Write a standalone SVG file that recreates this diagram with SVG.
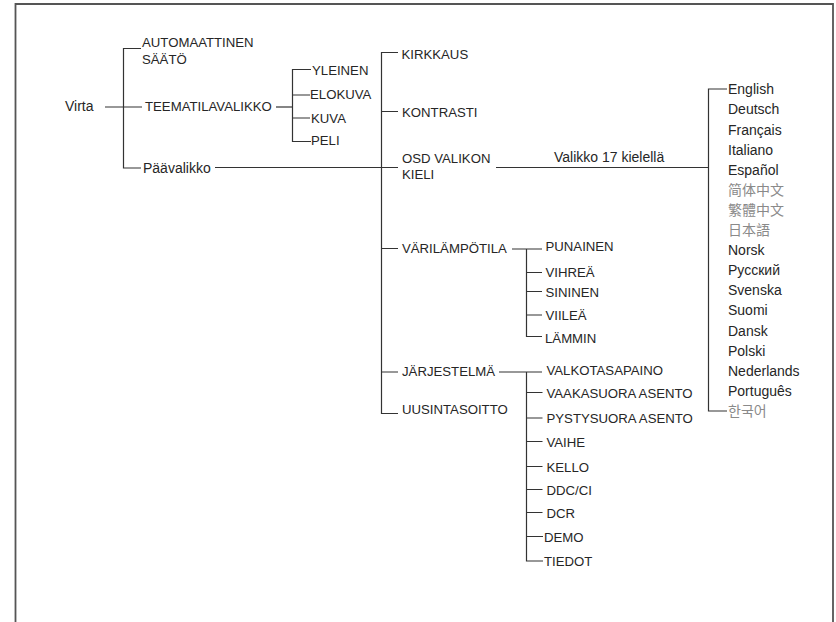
<svg xmlns="http://www.w3.org/2000/svg" width="836" height="622" viewBox="0 0 836 622">
<style>
text{font-family:"Liberation Sans",Arial,sans-serif;fill:#262626}
.c{font-size:13.2px}
.m{font-size:14px}
.cjk{font-family:"Liberation Sans","Noto Sans CJK SC","Noto Sans CJK JP","Noto Sans CJK KR",sans-serif;fill:#8a8a8a;font-size:14px}
#connectors path{fill:none;stroke:#333;stroke-width:1.2}
</style>
<rect width="836" height="622" fill="#fff"/>
<path d="M15.5 622V4H833V622" fill="none" stroke="#555" stroke-width="1.8"/>
<g id="connectors">
<path d="M105 107H142"/>
<path d="M141 48.5H123.5V168H141"/>
<path d="M276 107H292.5"/>
<path d="M311 69.5H292.5V141.5H311M292.5 95H310M292.5 118H310"/>
<path d="M215 167.5H398"/>
<path d="M398 52.5H381.5V413.5H398M381.5 111.5H398M381.5 248.5H398M381.5 372H398"/>
<path d="M496 167.5H708.5"/>
<path d="M727 89H708.5V411H727"/>
<path d="M512 249H542M526.5 249V336.5H542M526.5 272.5H542M526.5 291.5H542M526.5 315H542"/>
<path d="M499 372H542M526.5 372V561H543M526.5 392.5H542.5M526.5 418H542.5M526.5 441.5H542.5M526.5 466.5H542.5M526.5 489.5H542.5M526.5 512.5H542.5M526.5 536.5H543"/>
</g>
<g id="virta"><text class="m" x="65" y="111">Virta</text></g>
<g id="automaattinen"><text class="c" x="142" y="47">AUTOMAATTINEN</text><text class="c" x="142" y="64">SÄÄTÖ</text></g>
<g id="teematilavalikko"><text class="c" x="145" y="111">TEEMATILAVALIKKO</text></g>
<g id="paavalikko"><text class="m" x="143" y="173">Päävalikko</text></g>
<g id="yleinen"><text class="c" x="312" y="75">YLEINEN</text></g>
<g id="elokuva"><text class="c" x="310" y="99">ELOKUVA</text></g>
<g id="kuva"><text class="c" x="311" y="123">KUVA</text></g>
<g id="peli"><text class="c" x="311" y="145">PELI</text></g>
<g id="kirkkaus"><text class="c" x="401.5" y="59">KIRKKAUS</text></g>
<g id="kontrasti"><text class="c" x="402" y="117">KONTRASTI</text></g>
<g id="osd"><text class="c" x="402" y="163">OSD VALIKON</text><text class="c" x="402" y="179">KIELI</text></g>
<g id="valikko17"><text class="m" x="554" y="161.5">Valikko 17 kielellä</text></g>
<g id="languages">
<text class="m" x="728" y="94.3">English</text>
<text class="m" x="728" y="114.4">Deutsch</text>
<text class="m" x="728" y="134.5">Français</text>
<text class="m" x="728" y="154.6">Italiano</text>
<text class="m" x="728" y="174.7">Español</text>
<text class="cjk" x="728" y="194.8">简体中文</text>
<text class="cjk" x="728" y="214.9">繁體中文</text>
<text class="cjk" x="728" y="235">日本語</text>
<text class="m" x="728" y="255.1">Norsk</text>
<text class="m" x="728" y="275.2">Русский</text>
<text class="m" x="728" y="295.3">Svenska</text>
<text class="m" x="728" y="315.4">Suomi</text>
<text class="m" x="728" y="335.5">Dansk</text>
<text class="m" x="728" y="355.6">Polski</text>
<text class="m" x="728" y="375.7">Nederlands</text>
<text class="m" x="728" y="395.8">Português</text>
<text class="cjk" x="728" y="415.9">한국어</text>
</g>
<g id="varilampotila"><text class="c" x="402" y="253">VÄRILÄMPÖTILA</text></g>
<g id="punainen"><text class="c" x="545.5" y="251">PUNAINEN</text></g>
<g id="vihrea"><text class="c" x="545.5" y="277">VIHREÄ</text></g>
<g id="sininen"><text class="c" x="545.5" y="296.5">SININEN</text></g>
<g id="viilea"><text class="c" x="545.5" y="320">VIILEÄ</text></g>
<g id="lammin"><text class="c" x="545" y="342.5">LÄMMIN</text></g>
<g id="jarjestelma"><text class="c" x="402" y="376">JÄRJESTELMÄ</text></g>
<g id="uusintasoitto"><text class="c" x="402" y="414">UUSINTASOITTO</text></g>
<g id="valkotasapaino"><text class="c" x="546.5" y="375">VALKOTASAPAINO</text></g>
<g id="vaakasuora"><text class="c" x="546.5" y="397.5">VAAKASUORA ASENTO</text></g>
<g id="pystysuora"><text class="c" x="546.5" y="423">PYSTYSUORA ASENTO</text></g>
<g id="vaihe"><text class="c" x="546.5" y="447">VAIHE</text></g>
<g id="kello"><text class="c" x="546.5" y="472">KELLO</text></g>
<g id="ddcci"><text class="c" x="546.5" y="495">DDC/CI</text></g>
<g id="dcr"><text class="c" x="546.5" y="518">DCR</text></g>
<g id="demo"><text class="c" x="544" y="542">DEMO</text></g>
<g id="tiedot"><text class="c" x="544" y="565.5">TIEDOT</text></g>
</svg>
